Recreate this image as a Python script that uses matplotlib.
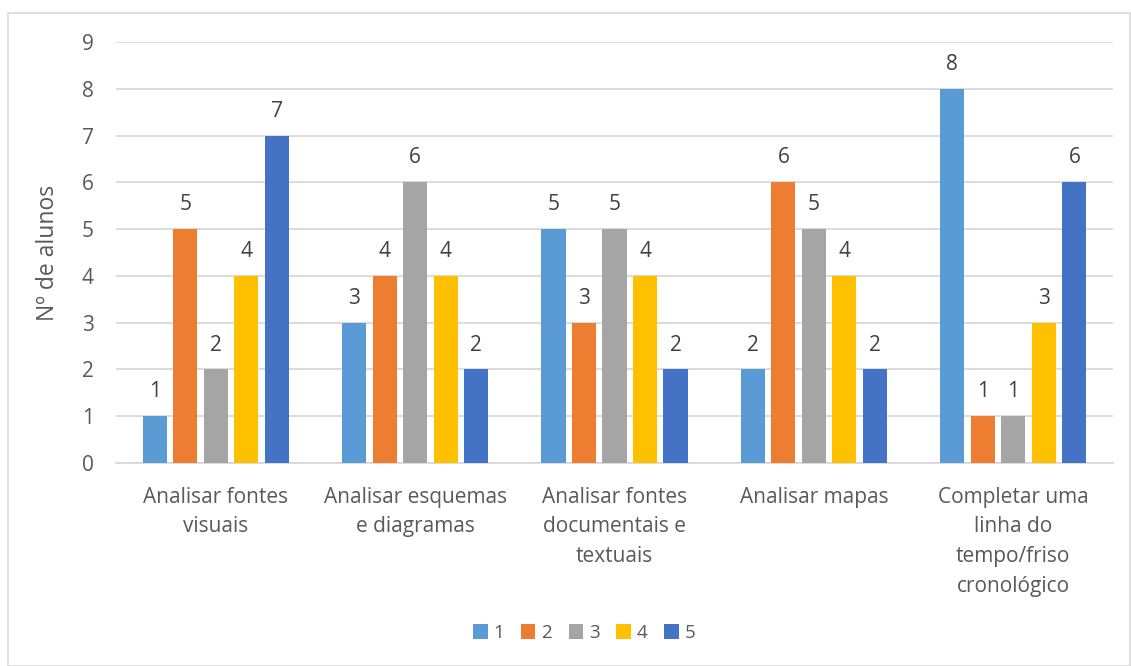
import matplotlib
matplotlib.use("Agg")
import matplotlib.pyplot as plt
from matplotlib.patches import Rectangle
import numpy as np

categories = ["Analisar fontes\nvisuais", "Analisar esquemas\ne diagramas",
              "Analisar fontes\ndocumentais e\ntextuais", "Analisar mapas",
              "Completar uma\nlinha do\ntempo/friso\ncronológico"]
series_names = ["1", "2", "3", "4", "5"]
s1 = [1, 3, 5, 2, 8]
s2 = [5, 4, 3, 6, 1]
s3 = [2, 6, 5, 5, 1]
s4 = [4, 4, 4, 4, 3]
s5 = [7, 2, 2, 2, 6]
series = [s1, s2, s3, s4, s5]
colors = ["#5B9BD5", "#ED7D31", "#A5A5A5", "#FFC000", "#4472C4"]
yticks = list(range(0, 10))

plt.rcParams['font.family'] = ['Open Sans', 'DejaVu Sans']
txt = "#595959"

W, H = 1131, 666
fig = plt.figure(figsize=(W/100, H/100), dpi=100)
fig.patches.append(Rectangle((8/W, 0), (W-9)/W, (H-13)/H, transform=fig.transFigure,
                             fill=False, edgecolor="#D9D9D9", lw=1.2))
ax = fig.add_axes([116/W, 1-463/H, (1113-116)/W, (463-42)/H])

x = np.arange(len(categories))
step = 0.153
bw = 0.121
for i, (vals, c, nm) in enumerate(zip(series, colors, series_names)):
    pos = x + (i - 2) * step
    ax.bar(pos, vals, bw, color=c, label=nm, zorder=3)
    for p, v in zip(pos, vals):
        ax.annotate(str(v), (p, v), xytext=(0, 10), textcoords="offset points",
                    ha="center", va="bottom", fontsize=15, color="#404040")

ax.set_xlim(-0.5, len(categories) - 0.5)
ax.set_ylim(0, 9)
ax.set_yticks(yticks)
ax.yaxis.grid(True, color="#D9D9D9", lw=1.3, zorder=0)
ax.set_axisbelow(True)
for s in ["top", "right", "left"]:
    ax.spines[s].set_visible(False)
ax.spines["bottom"].set_color("#D9D9D9")
ax.spines["bottom"].set_linewidth(1.3)
ax.tick_params(axis="both", length=0, colors=txt, labelsize=15)
ax.tick_params(axis="y", pad=16)
ax.tick_params(axis="x", pad=17)
ax.set_xticks(x)
ax.set_xticklabels(categories, linespacing=1.55)
ax.set_ylabel("Nº de alunos", fontsize=16.5, color=txt)
ax.yaxis.set_label_coords(-0.056, 0.5)

leg = ax.legend(loc="center", bbox_to_anchor=(584/W, 1-633/H), bbox_transform=fig.transFigure,
                ncol=5, frameon=False, fontsize=13.5, handlelength=0.78, handleheight=0.78,
                handletextpad=0.3, columnspacing=0.9, labelcolor=txt)

fig.savefig("out.png", dpi=100)
